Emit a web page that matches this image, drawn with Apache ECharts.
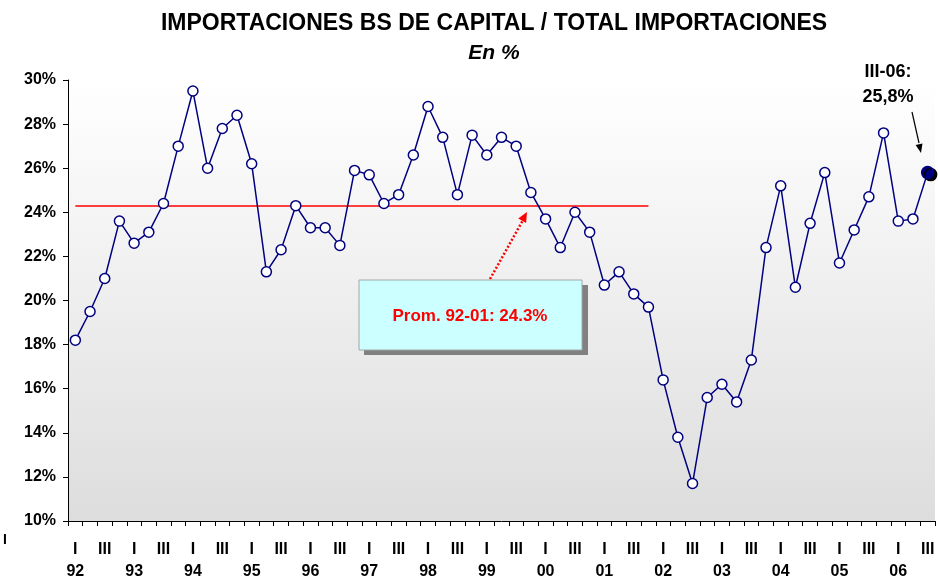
<!DOCTYPE html>
<html>
<head>
    <meta charset="utf-8" />
    <script src="https://cdn.jsdelivr.net/npm/echarts@6/dist/echarts.min.js"></script>
    <title></title>
    <style>
        html, body { margin: 0; padding: 0; background: #fff; }
        #main { width: 938px; height: 576px; }
    </style>
</head>
<body>
    <div id="main"></div>
    <script type="text/javascript">
        // trimestres 92-I .. 06-III
        var years = ['92', '93', '94', '95', '96', '97', '98', '99', '00', '01', '02', '03', '04', '05', '06'];
        var quarters = ['I', 'II', 'III', 'IV'];
        // participacion bs de capital (%)
        var shareValues = [
            18.2, 19.5, 21.0, 23.6,
            22.6, 23.1, 24.4, 27.0,
            29.5, 26.0, 27.8, 28.4,
            26.2, 21.3, 22.3, 24.3,
            23.3, 23.3, 22.5, 25.9,
            25.7, 24.4, 24.8, 26.6,
            28.8, 27.4, 24.8, 27.5,
            26.6, 27.4, 27.0, 24.9,
            23.7, 22.4, 24.0, 23.1,
            20.7, 21.3, 20.3, 19.7,
            16.4, 13.8, 11.7, 15.6,
            16.2, 15.4, 17.3, 22.4,
            25.2, 20.6, 23.5, 25.8,
            21.7, 23.2, 24.7, 27.6,
            23.6, 23.7, 25.8
        ];
        var avgValue = 24.3;      // promedio 92-01
        var avgLastIndex = 39;    // IV-01
        var yTicks = [10, 12, 14, 16, 18, 20, 22, 24, 26, 28, 30];

        var categories = [];
        for (var i = 0; i < shareValues.length; i++) {
            categories.push(quarters[i % 4] + '-' + years[Math.floor(i / 4)]);
        }

        var seriesData = shareValues.map(function (v, i) {
            if (i == shareValues.length - 1) {
                return {
                    value: v,
                    symbolSize: 12,
                    itemStyle: {
                        color: '#000080', borderColor: '#000080',
                        shadowColor: '#000', shadowOffsetX: 3, shadowOffsetY: 2, shadowBlur: 0
                    }
                };
            }
            return v;
        });

        function arrowHead(x1, y1, x2, y2, len, half) {
            var dx = x2 - x1, dy = y2 - y1;
            var d = Math.sqrt(dx * dx + dy * dy);
            var ux = dx / d, uy = dy / d;
            var bx = x2 - ux * len, by = y2 - uy * len;
            return [[x2, y2], [bx - uy * half, by + ux * half], [bx + uy * half, by - ux * half]];
        }

        var font = '"Liberation Sans", Arial, sans-serif';
        var myChart = echarts.init(document.getElementById('main'));

        var option = {
            backgroundColor: '#fff',
            animation: false,
            textStyle: { fontFamily: font },
            title: [
                {
                    text: 'IMPORTACIONES BS DE CAPITAL / TOTAL IMPORTACIONES',
                    left: 489, top: 7, textAlign: 'center',
                    textStyle: { fontFamily: font, fontSize: 23, fontWeight: 'bold', color: '#000' }
                },
                {
                    text: 'En %',
                    left: 489, top: 38, textAlign: 'center',
                    textStyle: { fontFamily: font, fontSize: 21, fontWeight: 'bold', fontStyle: 'italic', color: '#000' }
                }
            ],
            grid: {
                left: 68, right: 3, top: 80, bottom: 55,
                containLabel: false,
                outerBoundsMode: 'none',
                show: true, borderWidth: 0,
                backgroundColor: new echarts.graphic.LinearGradient(0, 0, 0, 1, [
                    { offset: 0, color: '#ffffff' },
                    { offset: 1, color: '#dddddd' }
                ])
            },
            xAxis: {
                type: 'category',
                data: categories,
                boundaryGap: true,
                axisLine: { lineStyle: { color: '#000', width: 1 } },
                axisTick: { show: true, interval: 0, length: 5, lineStyle: { color: '#000' } },
                axisLabel: {
                    interval: 0, margin: 18, color: '#000',
                    fontFamily: font, fontSize: 16, fontWeight: 'bold', lineHeight: 22,
                    formatter: function (val, idx) {
                        var q = idx % 4;
                        if (q == 0) return 'I\n' + years[Math.floor(idx / 4)];
                        if (q == 2) return 'III\n ';
                        return '';
                    }
                },
                splitLine: { show: false }
            },
            yAxis: {
                type: 'value',
                min: yTicks[0], max: yTicks[yTicks.length - 1], interval: 2,
                axisLine: { show: true, lineStyle: { color: '#000', width: 1 } },
                axisTick: { show: true, length: 5, lineStyle: { color: '#000' } },
                axisLabel: {
                    color: '#000', fontFamily: font, fontSize: 16, fontWeight: 'bold', margin: 12,
                    formatter: '{value}%'
                },
                splitLine: { show: false }
            },
            series: [
                {
                    name: 'BK/Total',
                    type: 'line',
                    data: seriesData,
                    symbol: 'circle',
                    symbolSize: 10,
                    showAllSymbol: true,
                    lineStyle: { color: '#000080', width: 1.5 },
                    itemStyle: { color: '#fff', borderColor: '#000080', borderWidth: 1.5 },
                    z: 3,
                    markLine: {
                        silent: true,
                        symbol: ['none', 'none'],
                        label: { show: false },
                        lineStyle: { color: '#ff0000', width: 1.5, type: 'solid' },
                        data: [[{ coord: [0, avgValue] }, { coord: [avgLastIndex, avgValue] }]],
                        z: 2
                    }
                }
            ],
            graphic: [
                // caja promedio
                { type: 'rect', shape: { x: 364, y: 285, width: 224, height: 70 }, style: { fill: '#808080' }, z: 10 },
                { type: 'rect', shape: { x: 359, y: 280, width: 223, height: 70 }, style: { fill: '#ccffff', stroke: '#a0a8a8', lineWidth: 1 }, z: 11 },
                { type: 'text', x: 470, y: 316, style: { text: 'Prom. 92-01: 24.3%', fill: '#ff0000', font: 'bold 17px ' + font, textAlign: 'center', textVerticalAlign: 'middle' }, z: 12 },
                // flecha roja punteada
                { type: 'line', shape: { x1: 490, y1: 279, x2: 523, y2: 220 }, style: { stroke: '#ff0000', lineWidth: 2.5, lineDash: [2, 2] }, z: 12 },
                { type: 'polygon', shape: { points: arrowHead(490, 279, 527, 212, 10, 4.5) }, style: { fill: '#ff0000' }, z: 12 },
                // etiqueta ultimo dato
                { type: 'text', x: 888, y: 72, style: { text: 'III-06:', fill: '#000', font: 'bold 18px ' + font, textAlign: 'center', textVerticalAlign: 'middle' }, z: 12 },
                { type: 'text', x: 888, y: 97, style: { text: '25,8%', fill: '#000', font: 'bold 18px ' + font, textAlign: 'center', textVerticalAlign: 'middle' }, z: 12 },
                { type: 'line', shape: { x1: 912, y1: 112, x2: 919, y2: 143 }, style: { stroke: '#000', lineWidth: 1.2 }, z: 12 },
                { type: 'polygon', shape: { points: arrowHead(912, 112, 921, 153, 9, 3.5) }, style: { fill: '#000' }, z: 12 },
                // marca suelta a la izquierda
                { type: 'text', x: 5, y: 540, style: { text: 'I', fill: '#000', font: 'bold 14px ' + font, textAlign: 'center', textVerticalAlign: 'middle' }, z: 12 }
            ]
        };
        myChart.setOption(option);
    </script>
</body>
</html>
